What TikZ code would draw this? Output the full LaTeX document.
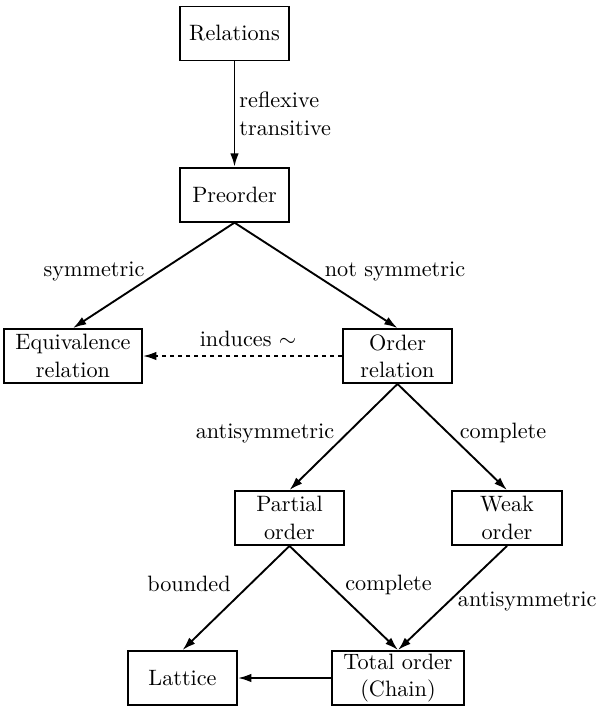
\documentclass[tikz,border=0pt]{standalone}
\usetikzlibrary{arrows.meta}
\begin{document}
\begin{tikzpicture}[x=0.45pt,y=-0.45pt,
  box/.style={draw,line width=0.85pt,inner sep=1pt,minimum height=24.3pt,align=center,font=\fontsize{10}{12.3}\selectfont},
  arr/.style={line width=0.85pt,-{Latex[length=6pt,width=3.8pt]}},
  lbl/.style={inner sep=0pt,anchor=base,font=\fontsize{10}{12}\selectfont}]
\useasboundingbox (0,0) rectangle (597,707);
\node[box,minimum width=49.05pt] (rel) at (234.5,33.5) {Relations};
\node[box,minimum width=49.05pt] (pre) at (234.5,194.7) {Preorder};
\node[box,minimum width=62.1pt] (equ) at (73,356) {Equivalence\\relation};
\node[box,minimum width=49.05pt] (ord) at (397.5,356) {Order\\relation};
\node[box,minimum width=49.05pt] (par) at (289.5,518) {Partial\\order};
\node[box,minimum width=49.5pt] (weak) at (507,518) {Weak\\order};
\node[box,minimum width=49.05pt] (lat) at (182.5,678) {Lattice};
\node[box,minimum width=59.4pt] (tot) at (398,678) {Total order\\(Chain)};
\draw[arr] (rel.south) -- (pre.north);
\draw[arr] (pre.south) -- (equ.north);
\draw[arr] (pre.south) -- (ord.north);
\draw[arr,dash pattern=on 2pt off 1.6pt] (ord.west) -- (equ.east);
\draw[arr] (ord.south) -- (par.north);
\draw[arr] (ord.south) -- (weak.north);
\draw[arr] (par.south) -- (lat.north);
\draw[arr] (par.south) -- (tot.north);
\draw[arr] (weak.south) -- (tot.north);
\draw[arr] (tot.west) -- (lat.east);
\node[lbl,anchor=base west] (l1a) at (239,107) {reflexive};
\node[lbl,anchor=base west] (l1b) at (239,135) {transitive};
\node[lbl] (l2) at (94,276.5) {symmetric};
\node[lbl] (l3) at (395,276.5) {not symmetric};
\node[lbl] (l4) at (248,346.5) {induces $\sim$};
\node[lbl] (l5) at (265,438) {antisymmetric};
\node[lbl] (l6) at (503,438) {complete};
\node[lbl] (l7) at (189,591.5) {bounded};
\node[lbl] (l8) at (388.5,590) {complete};
\node[lbl,anchor=base west] (l9) at (457.5,606.5) {antisymmetric};
\end{tikzpicture}
\end{document}
